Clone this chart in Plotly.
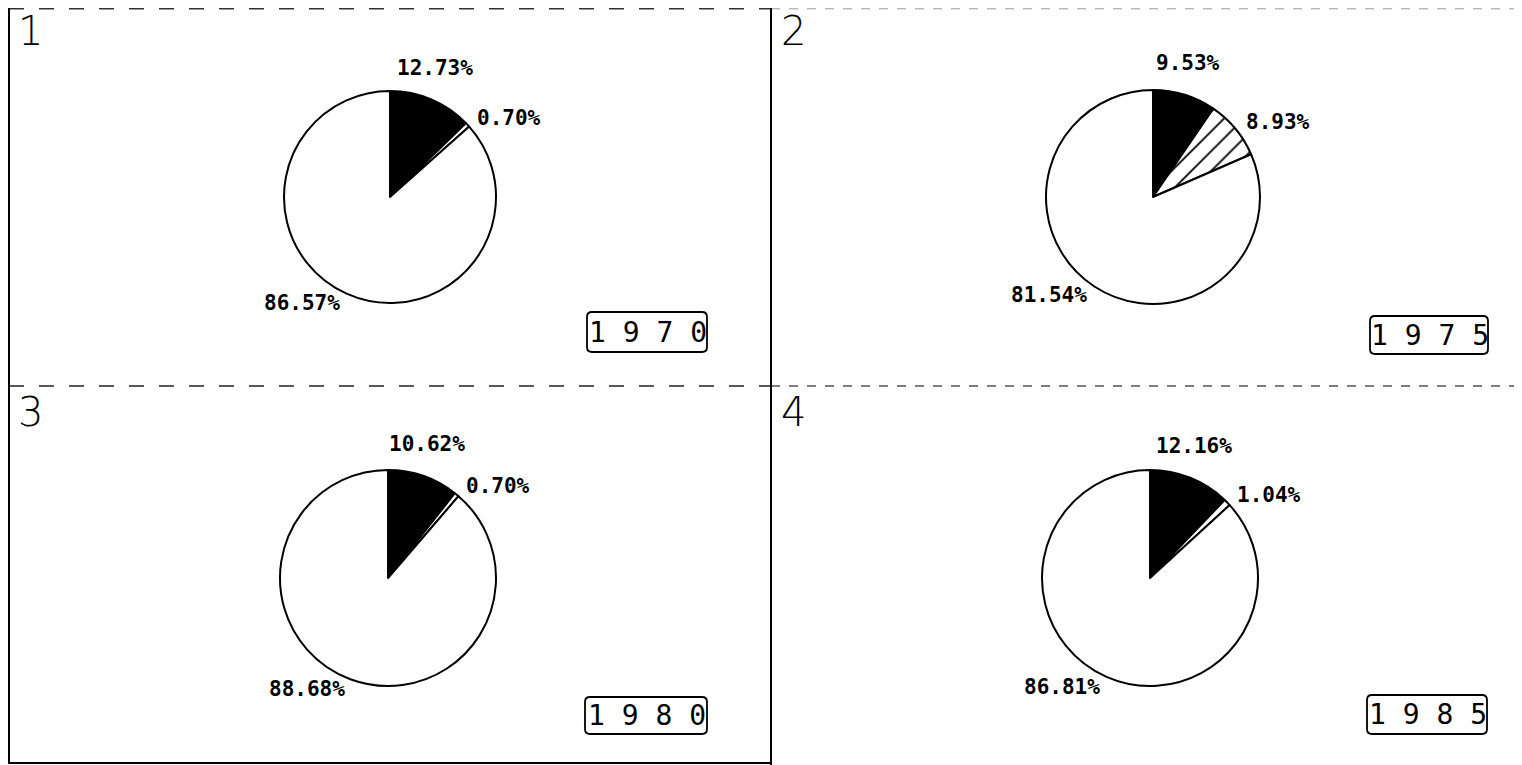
import math
import plotly.graph_objects as go

# ---------------- data ----------------
panel_numbers = ["1", "2", "3", "4"]
years = ["1970", "1975", "1980", "1985"]
share_black = [12.73, 9.53, 10.62, 12.16]
share_second = [0.70, 8.93, 0.70, 1.04]
share_white = [86.57, 81.54, 88.68, 86.81]
second_hatched = [False, True, False, False]

# ---------------- layout ----------------
# the page body has an 8px margin, so the figure starts at page (8, 8)
OFF = 8
W, H = 1522 - OFF, 765 - OFF
centers = [(390, 197), (1153, 197), (388, 578), (1150, 578)]
radii = [106, 107, 108, 108]
panel_origins = [(8, 5), (771, 5), (8, 386), (771, 386)]
year_boxes = [(587, 312, 707, 352), (1370, 316, 1488, 354), (585, 697, 707, 734), (1367, 695, 1487, 734)]


def px(x):
    return (x - OFF) / W


def py(y):
    return 1 - (y - OFF) / H


fig = go.Figure()
annotations = []
shapes = []

for i in range(4):
    cx, cy = centers[i]
    R = radii[i]
    vals = [share_black[i], share_second[i], share_white[i]]
    patt = ["", "/" if second_hatched[i] else "", ""]
    fig.add_trace(go.Pie(
        values=vals,
        labels=["a", "b", "c"],
        sort=False,
        direction="clockwise",
        rotation=0,
        textinfo="none",
        hoverinfo="skip",
        showlegend=False,
        domain=dict(x=[px(cx - R), px(cx + R)], y=[py(cy + R), py(cy - R)]),
        marker=dict(
            colors=["black", "white", "white"],
            line=dict(color="black", width=2),
            pattern=dict(shape=patt, fgcolor="black", bgcolor="white", fgopacity=1,
                         size=14, solidity=0.13, fillmode="overlay"),
        ),
    ))
    # percentage labels placed from slice mid-angles
    total = sum(vals)
    cum = 0.0
    for v in vals:
        mid = (cum + v / 2) / total * 2 * math.pi
        cum += v
        s, c = math.sin(mid), math.cos(mid)
        lx = cx + s * 1.1 * R
        ly = cy - c * 1.1 * R
        if s > 0.5:
            xa = "left"
        elif s < -0.3:
            xa = "right"
        else:
            xa = "center"
        if c > 0.8:
            ya = "bottom"
            ly -= 8
        else:
            ya = "middle"
        annotations.append(dict(
            x=px(lx), y=py(ly), xref="paper", yref="paper",
            text=f"{v:.2f}%", showarrow=False, xanchor=xa, yanchor=ya,
            font=dict(family="DejaVu Sans Mono", size=21, color="black", weight="bold"),
        ))
    # panel number
    ox, oy = panel_origins[i]
    annotations.append(dict(
        x=px(ox + 8), y=py(oy + 1), xref="paper", yref="paper",
        text=panel_numbers[i], showarrow=False, xanchor="left", yanchor="top",
        font=dict(family="DejaVu Sans ExtraLight, DejaVu Sans", size=40, color="black", weight=200),
    ))
    # year box
    x0, y0, x1, y1 = year_boxes[i]
    r = 5
    path = (f"M {px(x0 + r)},{py(y0)} L {px(x1 - r)},{py(y0)} "
            f"Q {px(x1)},{py(y0)} {px(x1)},{py(y0 + r)} L {px(x1)},{py(y1 - r)} "
            f"Q {px(x1)},{py(y1)} {px(x1 - r)},{py(y1)} L {px(x0 + r)},{py(y1)} "
            f"Q {px(x0)},{py(y1)} {px(x0)},{py(y1 - r)} L {px(x0)},{py(y0 + r)} "
            f"Q {px(x0)},{py(y0)} {px(x0 + r)},{py(y0)} Z")
    shapes.append(dict(type="path", xref="paper", yref="paper", path=path,
                       line=dict(color="black", width=1.8)))
    annotations.append(dict(
        x=px((x0 + x1) / 2 + 1), y=py((y0 + y1) / 2), xref="paper", yref="paper",
        text=" ".join(years[i]), showarrow=False, xanchor="center", yanchor="middle",
        font=dict(family="DejaVu Sans Mono", size=28, color="black"),
    ))


# frame lines
def hline(y, x0, x1, color="black", width=1.8, dash="solid"):
    shapes.append(dict(type="line", xref="paper", yref="paper",
                       x0=px(x0), x1=px(x1), y0=py(y), y1=py(y),
                       line=dict(color=color, width=width, dash=dash)))


def vline(x, y0, y1, color="black", width=2, dash="solid"):
    shapes.append(dict(type="line", xref="paper", yref="paper",
                       x0=px(x), x1=px(x), y0=py(y0), y1=py(y1),
                       line=dict(color=color, width=width, dash=dash)))


hline(8.8, 9, 771, color="#333333", width=1.5, dash="longdash")
hline(8.8, 771, 1522, color="#999999", width=1, dash="dash")
hline(386, 9, 771, color="#222222", width=1.6, dash="longdash")
hline(386, 771, 1522, color="#555555", width=1.3, dash="dash")
hline(763, 9, 771, color="black", width=2)
vline(9, 8, 764)
vline(771, 8, 765)

fig.update_layout(
    width=W, height=H,
    margin=dict(l=0, r=0, t=0, b=0),
    paper_bgcolor="white", plot_bgcolor="white",
    annotations=annotations, shapes=shapes,
)

fig.write_html("out.html")
